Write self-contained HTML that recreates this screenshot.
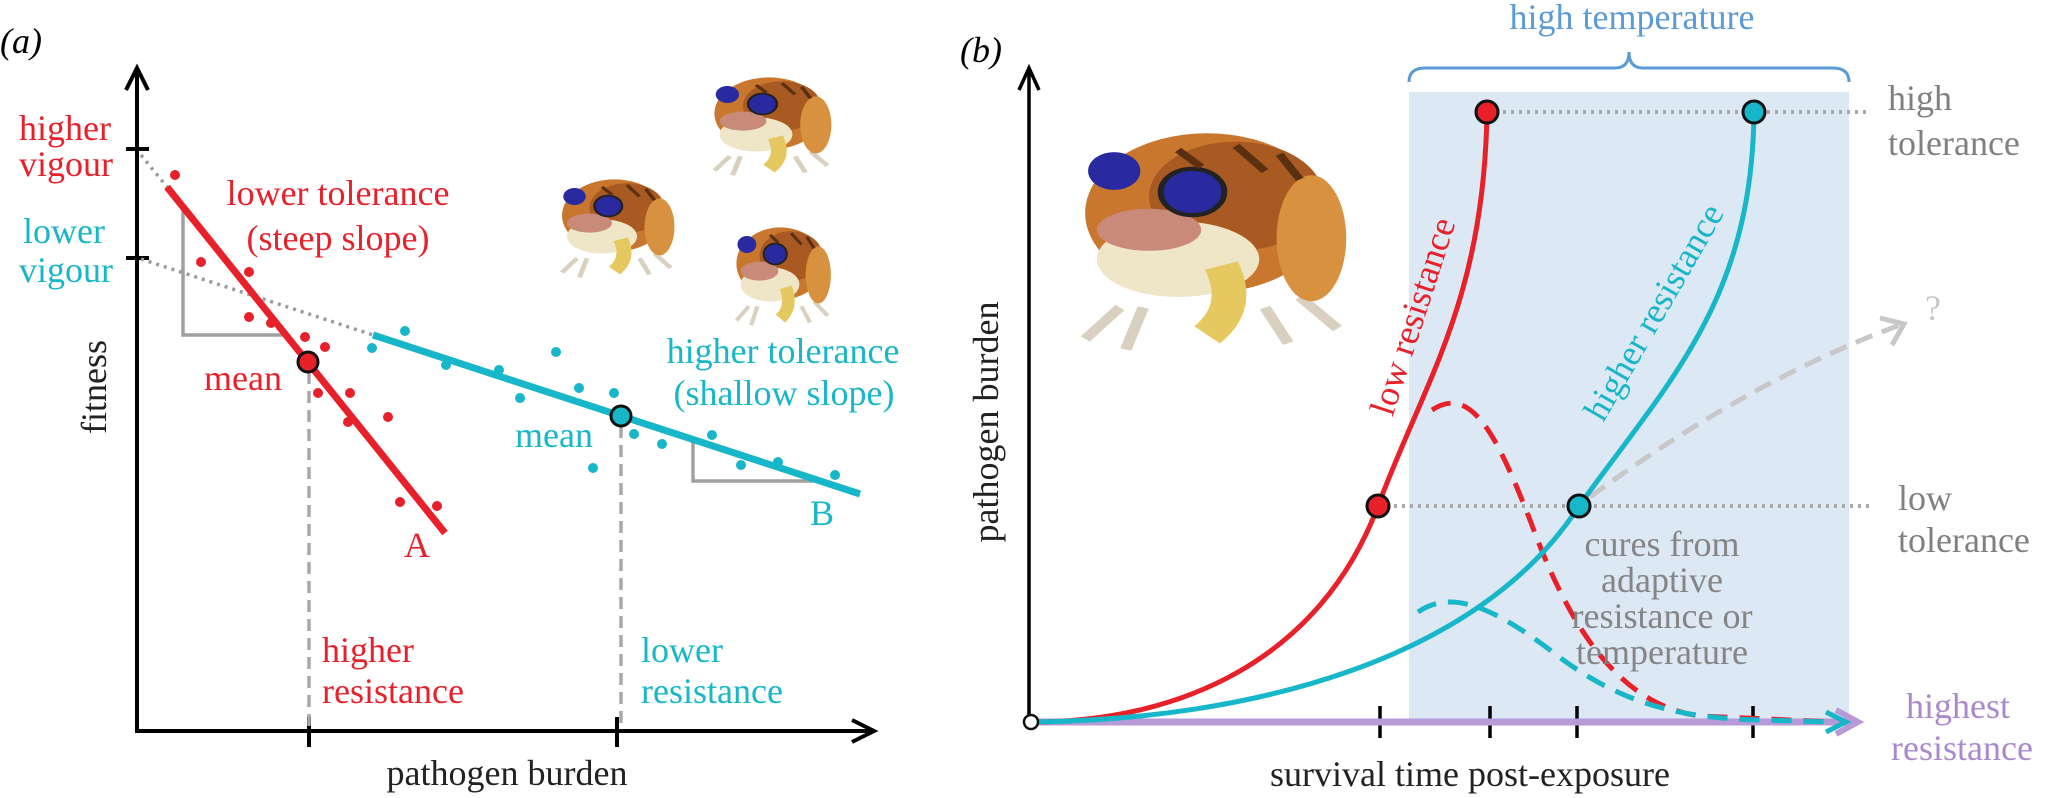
<!DOCTYPE html>
<html><head><meta charset="utf-8"><style>
html,body{margin:0;padding:0;background:#fff;}
svg{display:block;font-family:"Liberation Serif",serif;}
text{font-family:"Liberation Serif",serif;font-size:36px;}
</style></head><body>
<svg width="2055" height="798" viewBox="0 0 2055 798" xmlns="http://www.w3.org/2000/svg" font-family="Liberation Serif, serif" font-size="36">
<defs>
<g id="frog">
 <path d="M20,95 L8,110 M28,95 L22,115 M70,95 L78,112 M82,90 L95,105" stroke="#d9d0c0" stroke-width="4" fill="none"/>
 <ellipse cx="50" cy="50" rx="42" ry="38" fill="#c9772e"/>
 <ellipse cx="60" cy="42" rx="30" ry="26" fill="#a85a22"/>
 <ellipse cx="86" cy="62" rx="12" ry="30" fill="#d8913f"/>
 <ellipse cx="40" cy="72" rx="28" ry="18" fill="#efe6c8"/>
 <ellipse cx="30" cy="58" rx="18" ry="10" fill="#c98a7a"/>
 <path d="M55,75 Q62,95 50,108" stroke="#e6c860" stroke-width="12" fill="none"/>
 <circle cx="18" cy="30" r="9" fill="#2a2aa0"/>
 <circle cx="45" cy="40" r="11" fill="#2a2aa0" stroke="#222" stroke-width="2"/>
 <path d="M60,18 L70,30 M75,22 L82,34 M40,20 L48,28" stroke="#5a3010" stroke-width="3"/>
</g>
</defs>

<text x="0" y="53" font-style="italic">(a)</text>

<g stroke="#000" stroke-width="4" fill="none">
 <path d="M137,731 L137,69"/>
 <path d="M126,90 L137,68 L148,90"/>
 <path d="M135,731 L873,731"/>
 <path d="M852,720 L874,731 L852,742"/>
 <path d="M126,149 L149,149 M126,258 L149,258"/>
 <path d="M309,717 L309,747 M617,717 L617,747"/>
</g>

<g stroke="#9a9a9a" stroke-width="3.5" stroke-dasharray="3,5" fill="none">
 <path d="M141,155 L167,187"/>
 <path d="M141,259 L373,335"/>
</g>
<g stroke="#a8a8a8" stroke-width="3.5" stroke-dasharray="12,7" fill="none">
 <path d="M309,372 L309,728"/>
 <path d="M621,426 L621,728"/>
</g>
<g stroke="#a0a0a0" stroke-width="3.5" fill="none">
 <path d="M183,208 L183,335 L286,335"/>
 <path d="M693,442 L693,481 L813,481"/>
</g>

<path d="M167,187 L445,533" stroke="#e8202a" stroke-width="7"/>
<g fill="#e8202a">
 <circle cx="175" cy="175" r="5"/><circle cx="201" cy="262" r="5"/><circle cx="249" cy="272" r="5"/>
 <circle cx="249" cy="317" r="5"/><circle cx="271" cy="323" r="5"/><circle cx="305" cy="337" r="5"/>
 <circle cx="325" cy="347" r="5"/><circle cx="318" cy="393" r="5"/><circle cx="350" cy="393" r="5"/>
 <circle cx="348" cy="422" r="5"/><circle cx="388" cy="417" r="5"/><circle cx="400" cy="502" r="5"/>
 <circle cx="437" cy="506" r="5"/>
</g>
<path d="M373,335 L860,494" stroke="#17b6c8" stroke-width="7"/>
<g fill="#17b6c8">
 <circle cx="405" cy="331" r="5"/><circle cx="372" cy="348" r="5"/><circle cx="446" cy="365" r="5"/>
 <circle cx="499" cy="370" r="5"/><circle cx="556" cy="352" r="5"/><circle cx="520" cy="398" r="5"/>
 <circle cx="579" cy="388" r="5"/><circle cx="614" cy="393" r="5"/><circle cx="634" cy="434" r="5"/>
 <circle cx="662" cy="444" r="5"/><circle cx="593" cy="468" r="5"/><circle cx="712" cy="435" r="5"/>
 <circle cx="741" cy="465" r="5"/><circle cx="778" cy="462" r="5"/><circle cx="835" cy="475" r="5"/>
</g>
<circle cx="308" cy="362" r="10" fill="#e8202a" stroke="#111" stroke-width="3"/>
<circle cx="621" cy="416" r="10" fill="#17b6c8" stroke="#111" stroke-width="3"/>

<g fill="#e8202a" text-anchor="middle">
 <text x="65" y="140">higher</text>
 <text x="66" y="176">vigour</text>
 <text x="338" y="205">lower tolerance</text>
 <text x="338" y="250">(steep slope)</text>
 <text x="243" y="390">mean</text>
 <text x="417" y="557">A</text>
</g>
<g fill="#e8202a">
 <text x="322" y="662">higher</text>
 <text x="322" y="703">resistance</text>
</g>
<g fill="#17b6c8" text-anchor="middle">
 <text x="64" y="243">lower</text>
 <text x="66" y="282">vigour</text>
 <text x="783" y="363">higher tolerance</text>
 <text x="784" y="405">(shallow slope)</text>
 <text x="554" y="447">mean</text>
 <text x="822" y="525">B</text>
</g>
<g fill="#17b6c8">
 <text x="641" y="662">lower</text>
 <text x="641" y="703">resistance</text>
</g>
<text x="507" y="785" text-anchor="middle" fill="#222">pathogen burden</text>
<text transform="translate(106,387) rotate(-90)" text-anchor="middle" fill="#222">fitness</text>

<use href="#frog" transform="translate(552,168) scale(1.25,0.95)"/>
<use href="#frog" transform="translate(704,66) scale(1.3,0.95)"/>
<use href="#frog" transform="translate(728,216) scale(1.05,0.95)"/>

<text x="960" y="62" font-style="italic">(b)</text>

<rect x="1409" y="92" width="440" height="630" fill="#dce8f3"/>
<path d="M1409,82 Q1409,68 1425,68 L1615,68 Q1629,68 1629,52 Q1629,68 1643,68 L1833,68 Q1849,68 1849,82" stroke="#5b9bd5" stroke-width="3" fill="none"/>
<text x="1632" y="29" text-anchor="middle" fill="#5b9bd5">high temperature</text>

<g stroke="#000" stroke-width="3.5" fill="none">
 <path d="M1029,722 L1029,69"/>
 <path d="M1019,90 L1029,68 L1039,90"/>
 <path d="M1380,706 L1380,738 M1490,706 L1490,738 M1577,706 L1577,738 M1753,706 L1753,738"/>
</g>
<path d="M1031,722 L1855,722" stroke="#b99ad8" stroke-width="7"/>
<path d="M1836,710 L1858,722 L1836,734" stroke="#b99ad8" stroke-width="6" fill="none"/>

<g stroke="#a8a8a8" stroke-width="4" stroke-dasharray="3,5" fill="none">
 <path d="M1487,112 L1871,112"/>
 <path d="M1378,506 L1871,506"/>
</g>

<path d="M1432,410 C1470,385 1495,430 1530,520 C1570,630 1620,705 1700,716 L1835,722" stroke="#e8202a" stroke-width="5" stroke-dasharray="20,12" fill="none"/>
<path d="M1418,612 C1450,590 1490,605 1550,650 C1620,705 1680,718 1760,720 L1830,722" stroke="#17b6c8" stroke-width="5" stroke-dasharray="20,12" fill="none"/>
<path d="M1590,497 Q1750,380 1900,325" stroke="#c8c8c8" stroke-width="5" stroke-dasharray="18,10" fill="none"/>
<path d="M1880,318 L1904,324 L1892,345" stroke="#c8c8c8" stroke-width="5" fill="none"/>
<text x="1925" y="320" fill="#c8c8c8">?</text>

<path d="M1031,722 C1180,722 1320,660 1378,506 C1425,380 1484,300 1487,112" stroke="#e8202a" stroke-width="5" fill="none"/>
<path d="M1031,722 C1250,720 1480,660 1579,506 C1670,380 1752,300 1754,112" stroke="#17b6c8" stroke-width="5" fill="none"/>
<path d="M1826,712 L1846,722 L1826,732" stroke="#17b6c8" stroke-width="5" fill="none"/>

<circle cx="1487" cy="112" r="11" fill="#e8202a" stroke="#111" stroke-width="3"/>
<circle cx="1754" cy="112" r="11" fill="#17b6c8" stroke="#111" stroke-width="3"/>
<circle cx="1378" cy="506" r="11" fill="#e8202a" stroke="#111" stroke-width="3"/>
<circle cx="1579" cy="506" r="11" fill="#17b6c8" stroke="#111" stroke-width="3"/>
<circle cx="1031" cy="722" r="7" fill="#fff" stroke="#111" stroke-width="2.5"/>

<text transform="translate(1424,320) rotate(-72)" text-anchor="middle" fill="#e8202a">low resistance</text>
<text transform="translate(1664,318) rotate(-60)" text-anchor="middle" fill="#17b6c8">higher resistance</text>

<g fill="#808080">
 <text x="1888" y="110">high</text>
 <text x="1888" y="155">tolerance</text>
 <text x="1898" y="510">low</text>
 <text x="1898" y="552">tolerance</text>
</g>
<g fill="#808080" text-anchor="middle" fill-opacity="0.95">
 <text x="1662" y="556">cures from</text>
 <text x="1662" y="592">adaptive</text>
 <text x="1662" y="628">resistance or</text>
 <text x="1662" y="664">temperature</text>
</g>
<g fill="#a07cc8" text-anchor="middle" fill-opacity="0.9">
 <text x="1958" y="718">highest</text>
 <text x="1962" y="760">resistance</text>
</g>

<text x="1470" y="786" text-anchor="middle" fill="#222">survival time post-exposure</text>
<text transform="translate(998,422) rotate(-90)" text-anchor="middle" fill="#222">pathogen burden</text>

<use href="#frog" transform="translate(1062,108) scale(2.9,2.1)"/>
</svg>
</body></html>
